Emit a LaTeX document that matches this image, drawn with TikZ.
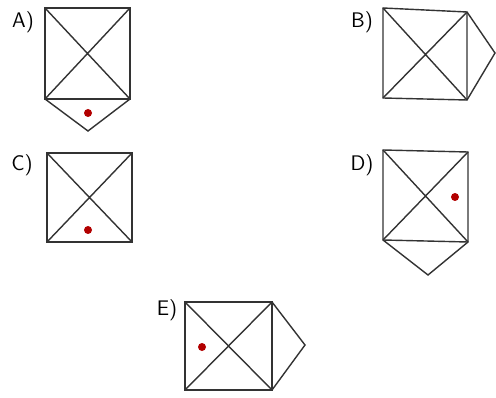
\documentclass[tikz,border=0pt]{standalone}
\usepackage{tikz}

\begin{document}
\begin{tikzpicture}[x=0.02cm, y=-0.02cm, line width=0.8pt, draw=black!80,
    lbl/.style={font=\sffamily\large},
    pt/.style={fill=red!70!black}]
  \useasboundingbox (0, 0) rectangle (496, 398);

  % A)
    \node[lbl] at (23, 22) (la) {A)};
    \draw (45, 8) rectangle (130, 99);
    \draw (45, 8) -- (130, 99) (130, 8) -- (45, 99);
    \draw (45, 99) -- (88, 131) -- (130, 99);
    \fill[pt] (88, 113) circle (4);

  % B)
    \node[lbl] at (362, 22) (lb) {B)};
    \draw (383, 8) -- (467, 12) -- (467, 100) -- (383, 98) -- cycle;
    \draw (383, 8) -- (467, 100) (467, 12) -- (383, 98);
    \draw (467, 12) -- (495, 53) -- (467, 100);

  % C)
    \node[lbl] at (22, 165) (lc) {C)};
    \draw (47, 153) rectangle (132, 242);
    \draw (47, 153) -- (132, 242) (132, 153) -- (47, 242);
    \fill[pt] (88, 230) circle (4);

  % D)
    \node[lbl] at (362, 165) (ld) {D)};
    \draw (383, 150) -- (468, 152) -- (468, 242) -- (383, 240) -- cycle;
    \draw (383, 150) -- (468, 242) (468, 152) -- (383, 240);
    \draw (383, 240) -- (428, 275) -- (468, 242);
    \fill[pt] (455, 197) circle (4);

  % E)
    \node[lbl] at (167, 310) (le) {E)};
    \draw (185, 302) rectangle (272, 390);
    \draw (185, 302) -- (272, 390) (272, 302) -- (185, 390);
    \draw (272, 302) -- (305, 345) -- (272, 390);
    \fill[pt] (202, 347) circle (4);
\end{tikzpicture}
\end{document}
